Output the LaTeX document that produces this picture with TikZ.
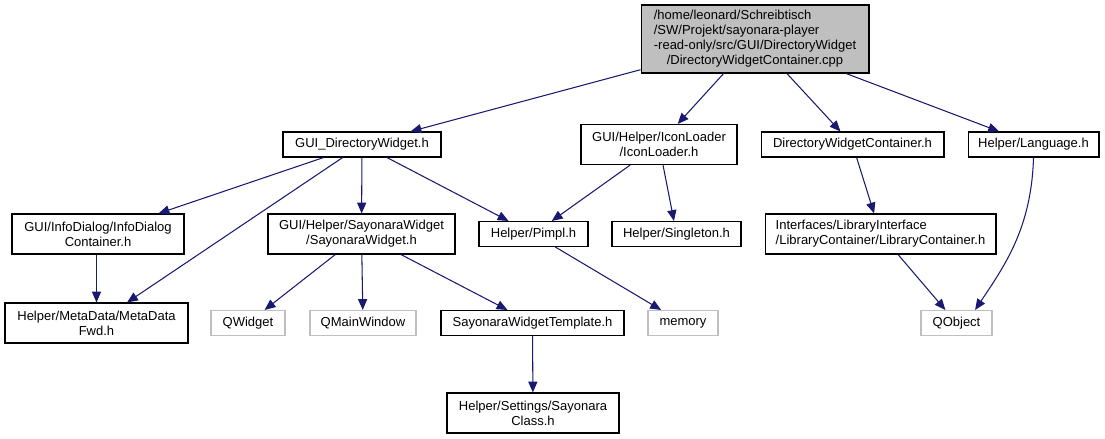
\documentclass[tikz,border=0pt]{standalone}
\usepackage{fontspec}
\setmainfont{Liberation Sans}
\usetikzlibrary{arrows.meta}
\definecolor{cedge}{HTML}{191970}
\definecolor{cext}{HTML}{BFBFBF}
\tikzset{
  every picture/.style={line width=0.6pt},
  file/.style={draw=black, fill=white, align=center, inner sep=1pt, minimum height=0.5cm, minimum width=#1, font=\fontsize{7.4}{8.4}\selectfont},
  file/.default=2cm,
  tall/.style={minimum height=0.8cm},
  ext/.style={draw=cext},
  root/.style={fill=cext, minimum height=1.36cm},
  arrow/.style={-{Triangle[length=6.2pt, width=5.2pt]}, draw=cedge, line width=0.6pt},
}

\begin{document}
\begin{tikzpicture}[x=0.02cm, y=-0.02cm]
  \useasboundingbox (0,0) rectangle (1105,439);
  % top level
  \node[file=4.56cm, root] (cpp) at (755,39) {\begin{tabular}{@{}l@{}}/home/leonard/Schreibtisch\\/SW/Projekt/sayonara-player\\-read-only/src/GUI/DirectoryWidget\\\multicolumn{1}{@{}c@{}}{/DirectoryWidgetContainer.cpp}\end{tabular}};
  \node[file=3.16cm] (gdw) at (362,144.5) {GUI\_DirectoryWidget.h};
  \node[file=3.12cm, tall] (icon) at (659,144.5) {GUI/Helper/IconLoader\\/IconLoader.h};
  \node[file=3.66cm] (dwc) at (852.5,144.5) {DirectoryWidgetContainer.h};
  \node[file=2.62cm] (lang) at (1033.5,144.5) {Helper/Language.h};
  % second row
  \node[file=3.44cm, tall] (info) at (98,234) {GUI/InfoDialog/InfoDialog\\Container.h};
  \node[file=3.74cm, tall] (sw) at (361.5,234) {GUI/Helper/SayonaraWidget\\/SayonaraWidget.h};
  \node[file=2.18cm] (pimpl) at (533.5,234) {Helper/Pimpl.h};
  \node[file=2.58cm] (single) at (676.5,234) {Helper/Singleton.h};
  \node[file=4.62cm, tall, align=left] (libc) at (880.5,234) {Interfaces/LibraryInterface\\/LibraryContainer/LibraryContainer.h};
  % third row
  \node[file=3.66cm, tall] (meta) at (96.5,323) {Helper/MetaData/MetaData\\Fwd.h};
  \node[file=1.48cm, ext] (qwidget) at (248,323) {QWidget};
  \node[file=2.12cm, ext] (qmain) at (363,323) {QMainWindow};
  \node[file=3.66cm] (swt) at (532.5,323) {SayonaraWidgetTemplate.h};
  \node[file=1.4cm, ext] (memory) at (683,323) {memory};
  \node[file=1.42cm, ext] (qobject) at (956.5,323) {QObject};
  \node[file=3.44cm, tall] (sclass) at (533,413) {Helper/Settings/Sayonara\\Class.h};
  % include edges
  \foreach \a/\b in {cpp/gdw, cpp/icon, cpp/dwc, cpp/lang, gdw/info, gdw/meta, gdw/sw, gdw/pimpl, icon/pimpl, icon/single, dwc/libc, sw/qwidget, sw/qmain, sw/swt, pimpl/memory, libc/qobject, swt/sclass}
    \draw[arrow] (\a) -- (\b);
  \draw[arrow] (info.south -| meta.north) -- (meta.north);
  \draw[arrow] (lang.south) .. controls +(-2,70) and +(30,-45) .. (qobject.35);
\end{tikzpicture}
\end{document}
